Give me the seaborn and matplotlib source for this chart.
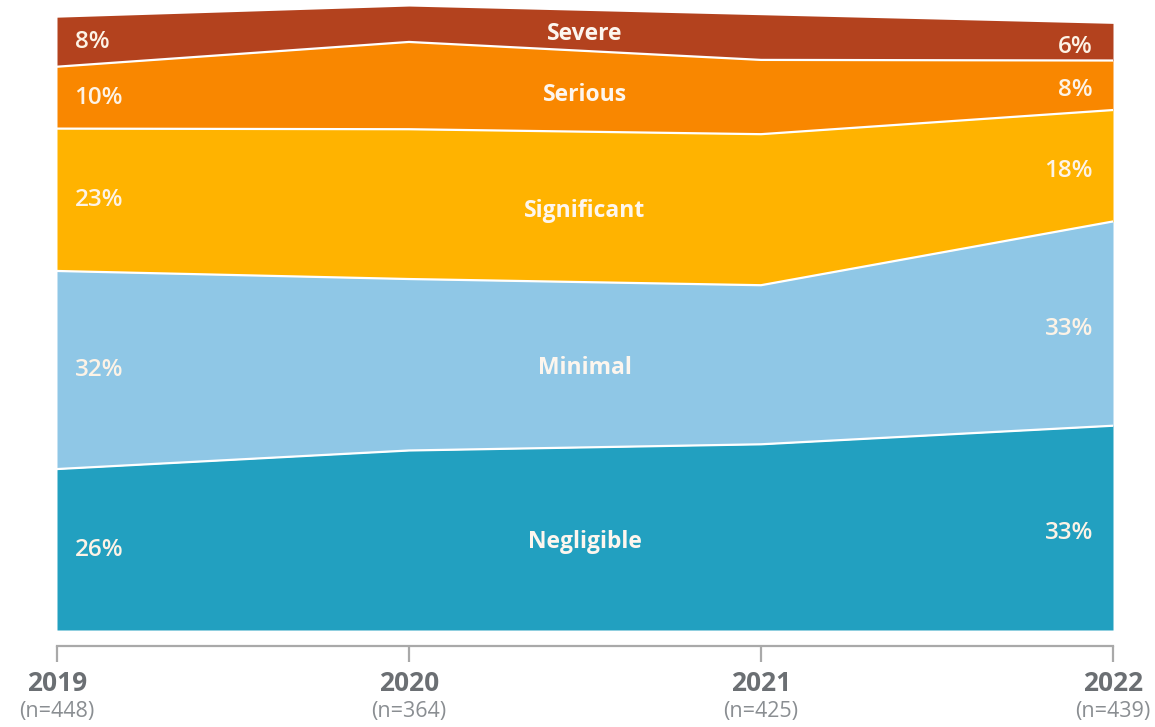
import numpy as np
import pandas as pd
import matplotlib
matplotlib.use("Agg")
import matplotlib.pyplot as plt
import matplotlib.transforms as mtransforms
import seaborn as sns

years = [2019, 2020, 2021, 2022]
sample_sizes = ["(n=448)", "(n=364)", "(n=425)", "(n=439)"]
categories = ["Negligible", "Minimal", "Significant", "Serious", "Severe"]
negligible = [26, 29.0, 30.0, 33]
minimal = [32, 27.7, 25.7, 33]
significant = [23, 24.2, 24.4, 18]
serious = [10, 14.1, 12.0, 8]
severe = [8, 5.8, 7.3, 6]
left_labels = ["26%", "32%", "23%", "10%", "8%"]
right_labels = ["33%", "33%", "18%", "8%", "6%"]
colors = ["#22a0c0", "#8fc7e6", "#ffb300", "#f98700", "#b3421e"]

sns.set_theme(style="white")
plt.rcParams['font.family'] = ['Open Sans', 'DejaVu Sans']

series = [negligible, minimal, significant, serious, severe]
df = pd.DataFrame({c: s for c, s in zip(categories, series)}, index=years)

fig = plt.figure(figsize=(11.55, 7.27), dpi=100)
ax = fig.add_axes([57 / 1155, 1 - 630 / 727, (1113 - 57) / 1155, 101.5 * 6.19 / 727])

x = np.array(years, dtype=float)
ax.stackplot(x, *[df[c].values for c in categories], colors=colors, linewidth=0)
cum = df.cumsum(axis=1)
for c in categories[:-1]:
    sns.lineplot(x=x, y=cum[c].values, ax=ax, color="white", linewidth=1.6, legend=False)

ax.set_xlim(2019, 2022)
ax.set_ylim(0, 101.5)

# labels
bottoms = cum.values - df.values
mids = bottoms + df.values / 2
for i, c in enumerate(categories):
    ax.text(2019 + 0.05, mids[0, i], left_labels[i], ha="left", va="center",
            color="#fdf3e6", fontsize=17.5, fontweight="semibold")
    ax.text(2022 - 0.057, mids[-1, i] - 0.8, right_labels[i], ha="right", va="center",
            color="#fdf3e6", fontsize=17.5, fontweight="semibold")
    xm = 2020.5
    ym = np.interp(xm, x, mids[:, i])
    ax.text(xm, ym - 0.6, c, ha="center", va="center", color="#fdf6ee",
            fontsize=16.5, fontweight="bold")

# axis styling
for s in ["left", "right", "top"]:
    ax.spines[s].set_visible(False)
ax.spines["bottom"].set_position(("outward", 11.5))
ax.spines["bottom"].set_color("#a9a9a9")
ax.spines["bottom"].set_linewidth(1.6)
ax.set_yticks([])
ax.set_xticks(years)
ax.set_xticklabels([str(y) for y in years])
ax.tick_params(axis="x", direction="out", length=11.5, width=1.6, color="#a9a9a9",
               labelsize=19, labelcolor="#6b6f73", pad=6, bottom=True)
for lab in ax.get_xticklabels():
    lab.set_fontweight("bold")

trans = mtransforms.blended_transform_factory(ax.transData, fig.transFigure)
for yv, n in zip(years, sample_sizes):
    ax.text(yv, 1 - 711 / 727, n, transform=trans, ha="center", va="center",
            fontsize=15.5, color="#8a8e92")

fig.savefig("out.png", dpi=100)
